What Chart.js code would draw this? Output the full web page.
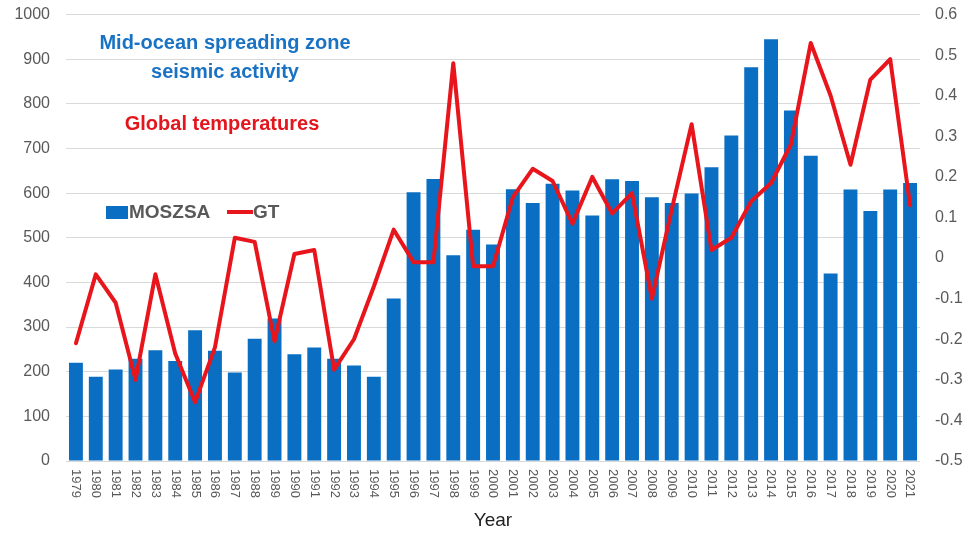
<!DOCTYPE html>
<html>
<head>
<meta charset="utf-8">
<script src="https://cdn.jsdelivr.net/npm/chart.js@4.4.1/dist/chart.umd.min.js"></script>
<style>
  html, body { margin: 0; padding: 0; background: #fff; }
  #wrap { width: 979px; height: 534px; overflow: hidden; position: relative; }
  #chart { position: absolute; left: 0; top: -11px; }
</style>
</head>
<body>
<div id="wrap"><canvas id="chart" width="979" height="545"></canvas></div>
<script>
const years = ['1979','1980','1981','1982','1983','1984','1985','1986','1987','1988','1989','1990','1991','1992','1993','1994','1995','1996','1997','1998','1999','2000','2001','2002','2003','2004','2005','2006','2007','2008','2009','2010','2011','2012','2013','2014','2015','2016','2017','2018','2019','2020','2021'];

const moszsa = [220, 189, 205, 229, 248, 224, 293, 247, 198, 274, 319, 239, 254, 229, 214, 189, 364, 602, 632, 461, 518, 485, 609, 578, 621, 606, 550, 631, 627, 591, 578, 599, 658, 729, 882, 945, 785, 684, 420, 608, 560, 608, 623];

const gt = [-0.21, -0.04, -0.11, -0.30, -0.04, -0.235, -0.355, -0.22, 0.05, 0.04, -0.205, 0.01, 0.02, -0.275, -0.20, -0.07, 0.07, -0.01, -0.01, 0.48, -0.02, -0.02, 0.15, 0.22, 0.19, 0.085, 0.20, 0.11, 0.16, -0.10, 0.12, 0.33, 0.02, 0.05, 0.14, 0.185, 0.28, 0.53, 0.40, 0.23, 0.44, 0.49, 0.13];

const leftTicks  = [0, 100, 200, 300, 400, 500, 600, 700, 800, 900, 1000];
const rightTicks = [-0.5, -0.4, -0.3, -0.2, -0.1, 0, 0.1, 0.2, 0.3, 0.4, 0.5, 0.6];

const FONT = "'Liberation Sans', Arial, sans-serif";
const BLUE = '#0a6fc2';
const RED  = '#e8161c';
const GREY = '#595959';
const OFF  = 11; // canvas is shifted up by this much

const overlay = {
    id: 'overlay',
    afterDraw(chart) {
        const ctx = chart.ctx;
        const x = chart.scales.x;
        ctx.save();
        ctx.translate(0, OFF);

        // rotated year labels
        ctx.fillStyle = GREY;
        ctx.font = '13px ' + FONT;
        ctx.textAlign = 'left';
        ctx.textBaseline = 'middle';
        years.forEach((y, i) => {
            ctx.save();
            ctx.translate(x.getPixelForTick(i), 469);
            ctx.rotate(Math.PI / 2);
            ctx.fillText(y, 0, 0);
            ctx.restore();
        });

        // axis title
        ctx.textAlign = 'center';
        ctx.font = '19px ' + FONT;
        ctx.fillStyle = '#222';
        ctx.fillText('Year', (chart.chartArea.left + chart.chartArea.right) / 2, 521);

        // annotations
        ctx.font = 'bold 20px ' + FONT;
        ctx.fillStyle = '#1a72c4';
        ctx.fillText('Mid-ocean spreading zone', 225, 43);
        ctx.fillText('seismic activity', 225, 72);
        ctx.fillStyle = '#e3161d';
        ctx.fillText('Global temperatures', 222, 124);

        // legend
        const ds = chart.data.datasets;
        ctx.fillStyle = ds[1].backgroundColor;
        ctx.fillRect(106, 206, 22, 13);
        ctx.font = 'bold 19px ' + FONT;
        ctx.fillStyle = GREY;
        ctx.textAlign = 'left';
        ctx.fillText(ds[1].label, 129, 213);
        ctx.strokeStyle = ds[0].borderColor;
        ctx.lineWidth = 4;
        ctx.beginPath();
        ctx.moveTo(227, 212);
        ctx.lineTo(253, 212);
        ctx.stroke();
        ctx.fillText(ds[0].label, 253, 213);

        ctx.restore();
    }
};

new Chart(document.getElementById('chart'), {
    type: 'bar',
    data: {
        labels: years,
        datasets: [
            { type: 'line', label: 'GT', data: gt, yAxisID: 'y1', borderColor: RED, borderWidth: 4, pointRadius: 0, tension: 0, borderJoinStyle: 'round', borderCapStyle: 'round', order: 0 },
            { type: 'bar', label: 'MOSZSA', data: moszsa, yAxisID: 'y', backgroundColor: BLUE, categoryPercentage: 1, barPercentage: 0.7, order: 1 }
        ]
    },
    options: {
        responsive: false,
        animation: false,
        layout: { padding: 0 },
        plugins: { legend: { display: false }, tooltip: { enabled: false } },
        scales: {
            x: {
                grid: { display: false },
                border: { display: false },
                ticks: { display: false },
                afterFit: s => { s.height = 73; }
            },
            y: {
                position: 'left',
                min: 0, max: 1000,
                afterBuildTicks: s => { s.ticks = leftTicks.map(v => ({ value: v })); },
                grid: { color: '#d9d9d9', drawTicks: false, lineWidth: 1 },
                border: { display: false },
                ticks: { color: GREY, font: { size: 16, family: FONT }, padding: 16, callback: v => String(v) },
                afterFit: s => { s.width = 66; }
            },
            y1: {
                position: 'right',
                min: -0.5, max: 0.6,
                afterBuildTicks: s => { s.ticks = rightTicks.map(v => ({ value: v })); },
                grid: { display: false, drawTicks: false },
                border: { display: false },
                ticks: { color: GREY, font: { size: 16, family: FONT }, padding: 15, callback: v => String(Number(v.toFixed(1))) },
                afterFit: s => { s.width = 59; }
            }
        }
    },
    plugins: [overlay]
});
</script>
</body>
</html>
